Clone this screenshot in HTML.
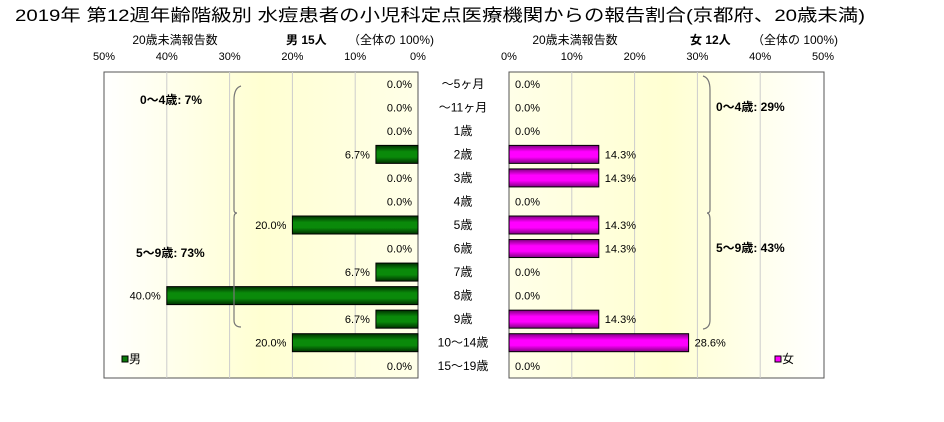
<!DOCTYPE html>
<html><head><meta charset="utf-8">
<style>
body{margin:0;background:#fff;width:944px;height:417px;overflow:hidden;font-family:"Liberation Sans","Noto Sans CJK JP",sans-serif;}
svg text{font-family:"Liberation Sans","Noto Sans CJK JP",sans-serif;}
</style></head>
<body>
<svg id="chart" width="944" height="417">
<defs>
<linearGradient id="bgL" x1="0" x2="1" y1="0" y2="0"><stop offset="0" stop-color="#ffffff"/><stop offset="0.5" stop-color="#ffffd2"/><stop offset="1" stop-color="#ffffe8"/></linearGradient>
<linearGradient id="bgR" x1="0" x2="1" y1="0" y2="0"><stop offset="0" stop-color="#ffffe8"/><stop offset="0.5" stop-color="#ffffd2"/><stop offset="1" stop-color="#ffffff"/></linearGradient>
<linearGradient id="gG" x1="0" x2="0" y1="0" y2="1"><stop offset="0" stop-color="#003000"/><stop offset="0.35" stop-color="#0a8a0a"/><stop offset="0.65" stop-color="#0a8a0a"/><stop offset="1" stop-color="#003000"/></linearGradient>
<linearGradient id="gM" x1="0" x2="0" y1="0" y2="1"><stop offset="0" stop-color="#800080"/><stop offset="0.35" stop-color="#ff00ff"/><stop offset="0.65" stop-color="#ff00ff"/><stop offset="1" stop-color="#800080"/></linearGradient>
</defs>
<text x="15" y="21" font-size="17" textLength="850" lengthAdjust="spacingAndGlyphs">2019年 第12週年齢階級別 水痘患者の小児科定点医療機関からの報告割合(京都府、20歳未満)</text>
<text x="175" y="44" text-anchor="middle" font-size="12">20歳未満報告数</text>
<text x="286" y="44" font-size="12" font-weight="bold">男 15人</text>
<text x="348" y="44" font-size="12">（全体の 100%)</text>
<text x="575" y="44" text-anchor="middle" font-size="12">20歳未満報告数</text>
<text x="690" y="44" font-size="12" font-weight="bold">女 12人</text>
<text x="752" y="44" font-size="12">（全体の 100%)</text>
<rect x="104" y="72" width="314" height="306" fill="url(#bgL)" stroke="#555"/>
<rect x="509" y="72" width="315" height="306" fill="url(#bgR)" stroke="#555"/>
<g id="grid"></g><g id="bars"></g><g id="labels"></g>
<g fill="none" stroke="#777" stroke-width="1.2">
<path d="M241 86 Q234 88 234 100 L234 210 Q234 213 237 213"/>
<path d="M237 213 Q234 213 234 218 L234 320 Q234 327 241 327"/>
<path d="M703 76 Q710 78 710 90 L710 210 Q710 213 707 213"/>
<path d="M707 213 Q710 213 710 220 L710 320 Q710 328 703 329"/>
</g>
<text x="140" y="104" font-size="12" font-weight="bold">0〜4歳: 7%</text>
<text x="136" y="257" font-size="12" font-weight="bold">5〜9歳: 73%</text>
<text x="716" y="111" font-size="12" font-weight="bold">0〜4歳: 29%</text>
<text x="716" y="252" font-size="12" font-weight="bold">5〜9歳: 43%</text>
<rect x="122" y="356" width="6" height="6" fill="#0a7a0a" stroke="#000"/>
<text x="129" y="363" font-size="12">男</text>
<rect x="775" y="356" width="6" height="6" fill="#ff00ff" stroke="#000"/>
<text x="782" y="363" font-size="12">女</text>
</svg>
<script>
const categories=["〜5ヶ月","〜11ヶ月","1歳","2歳","3歳","4歳","5歳","6歳","7歳","8歳","9歳","10〜14歳","15〜19歳"];
const maleValues=[0,0,0,6.7,0,0,20.0,0,6.7,40.0,6.7,20.0,0];
const femaleValues=[0,0,0,14.3,14.3,0,14.3,14.3,0,0,14.3,28.6,0];
const tickValues=[0,10,20,30,40,50];
const NS="http://www.w3.org/2000/svg";
const gGrid=document.getElementById('grid'),gBars=document.getElementById('bars'),gLab=document.getElementById('labels');
const LX0=418,RX0=509,SC=314/50,TOP=72,ROWH=306/13,BH=18;
function xl(v){return LX0-v*SC;}
function xr(v){return RX0+v*SC;}
function yc(i){return TOP+ROWH*(i+0.5);}
function mk(tag,attrs,parent){const e=document.createElementNS(NS,tag);for(const k in attrs)e.setAttribute(k,attrs[k]);parent.appendChild(e);return e;}
tickValues.forEach(t=>{
  const a=mk('text',{x:xl(t),y:60,'text-anchor':'middle','font-size':11},gLab);a.textContent=t+'%';
  
  
  const b=mk('text',{x:xr(t),y:60,'text-anchor':'middle','font-size':11},gLab);b.textContent=t+'%';
  
  
  if(t>0&&t<50){
    const l1=mk('line',{x1:xl(t),x2:xl(t),y1:TOP,y2:378,stroke:'#ccc'},gGrid);
    
    
    const l2=mk('line',{x1:xr(t),x2:xr(t),y1:TOP,y2:378,stroke:'#ccc'},gGrid);
    
    
  }
});
categories.forEach((c,i)=>{
  const y=yc(i);
  const ct=mk('text',{x:463,y:y+4,'text-anchor':'middle','font-size':12},gLab);ct.textContent=c;
  
  
  const mv=maleValues[i],fv=femaleValues[i];
  if(mv>0){const r=mk('rect',{x:xl(mv),y:y-BH/2,width:mv*SC,height:BH,fill:'url(#gG)',stroke:'#000'},gBars);
    
    }
  if(fv>0){const r=mk('rect',{x:RX0,y:y-BH/2,width:fv*SC,height:BH,fill:'url(#gM)',stroke:'#000'},gBars);
    
    }
  const ml=mk('text',{x:xl(mv)-6,y:y+4,'text-anchor':'end','font-size':11},gLab);ml.textContent=mv.toFixed(1)+'%';
  
  
  const fl=mk('text',{x:xr(fv)+6,y:y+4,'font-size':11},gLab);fl.textContent=fv.toFixed(1)+'%';
  
  
});
</script>
</body></html>
